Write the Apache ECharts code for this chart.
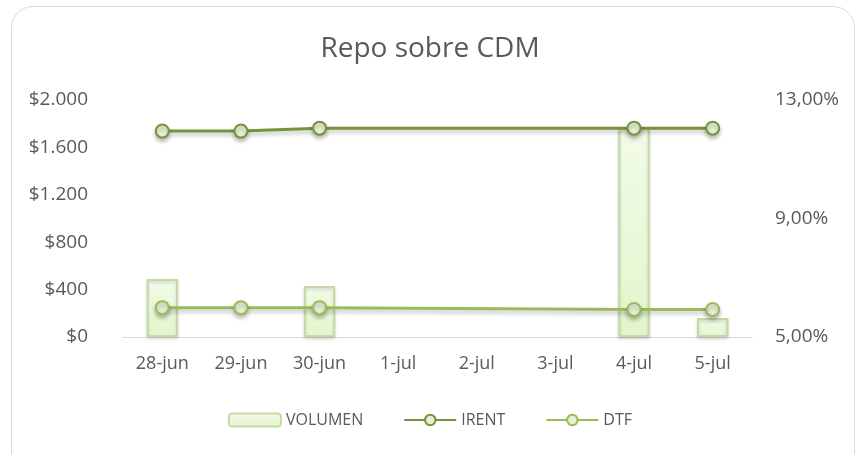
<!DOCTYPE html>
<html>
<head>
<meta charset="utf-8">
<script src="https://cdn.jsdelivr.net/npm/echarts@6/dist/echarts.min.js"></script>
<style>
    html, body { margin: 0; padding: 0; background: #fff; }
    #frame {
        position: absolute; left: 11px; top: 6px; width: 844px; height: 470px;
        border: 1.5px solid #d9d9d9; border-radius: 22px; box-sizing: border-box;
    }
    #main { position: absolute; left: 0; top: 0; width: 860px; height: 454px; }
</style>
</head>
<body>
<div id="frame"></div>
<div id="main"></div>
<script>
    var categories = ['28-jun', '29-jun', '30-jun', '1-jul', '2-jul', '3-jul', '4-jul', '5-jul'];
    var volumen = [490, null, 430, null, null, null, 1770, 160];
    var irent = [11.95, 11.95, 12.05, null, null, null, 12.05, 12.05];
    var dtf = [5.99, 5.99, 5.99, null, null, null, 5.93, 5.93];

    var textColor = '#595959';
    var fontFamily = '"Open Sans", "Noto Sans", sans-serif';

    var chart = echarts.init(document.getElementById('main'));

    function lineSeries(name, data, color) {
        return {
            name: name,
            type: 'line',
            yAxisIndex: 1,
            data: data,
            connectNulls: true,
            symbol: 'circle',
            symbolSize: 13,
            lineStyle: {
                color: color,
                width: 3,
                shadowColor: 'rgba(0,0,0,0.25)',
                shadowBlur: 4,
                shadowOffsetY: 3
            },
            itemStyle: {
                color: '#e6f0d4',
                borderColor: color,
                borderWidth: 2,
                shadowColor: 'rgba(0,0,0,0.25)',
                shadowBlur: 4,
                shadowOffsetY: 3
            },
            z: 3
        };
    }

    var option = {
        animation: false,
        textStyle: { fontFamily: fontFamily },
        title: {
            text: 'Repo sobre CDM',
            left: 'center',
            top: 30,
            textStyle: { color: textColor, fontSize: 28, fontWeight: 'normal', fontFamily: fontFamily }
        },
        legend: {
            bottom: 21,
            left: 'center',
            itemGap: 40,
            itemWidth: 52,
            itemHeight: 13,
            textStyle: { color: textColor, fontSize: 16, fontFamily: fontFamily },
            data: ['VOLUMEN', 'IRENT', 'DTF']
        },
        grid: {
            left: 123,
            right: 108,
            top: 100,
            bottom: 117,
            containLabel: false
        },
        xAxis: {
            type: 'category',
            data: categories,
            axisLine: { lineStyle: { color: '#d9d9d9', width: 1 } },
            axisTick: { show: false },
            axisLabel: { color: textColor, fontSize: 18, margin: 18, fontFamily: fontFamily }
        },
        yAxis: [{
            type: 'value',
            min: 0,
            max: 2000,
            interval: 400,
            axisLine: { show: false },
            axisTick: { show: false },
            splitLine: { show: false },
            axisLabel: {
                color: textColor, fontSize: 19, margin: 35, fontFamily: fontFamily,
                formatter: function (v) {
                    return '$' + v.toString().replace(/\B(?=(\d{3})+(?!\d))/g, '.');
                }
            }
        }, {
            type: 'value',
            min: 5,
            max: 13,
            interval: 4,
            axisLine: { show: false },
            axisTick: { show: false },
            splitLine: { show: false },
            axisLabel: {
                color: textColor, fontSize: 19, margin: 23, fontFamily: fontFamily,
                formatter: function (v) {
                    return v.toFixed(2).replace('.', ',') + '%';
                }
            }
        }],
        series: [{
            name: 'VOLUMEN',
            type: 'bar',
            data: volumen,
            barWidth: '40%',
            itemStyle: {
                color: new echarts.graphic.LinearGradient(0, 0, 0, 1, [
                    { offset: 0, color: '#f2fbe8' },
                    { offset: 1, color: '#e3f5cc' }
                ]),
                borderColor: '#c6d9a6',
                borderWidth: 2,
                shadowColor: 'rgba(0,0,0,0.15)',
                shadowBlur: 3,
                shadowOffsetY: 2
            },
            z: 2
        },
            lineSeries('IRENT', irent, '#77933c'),
            lineSeries('DTF', dtf, '#9bbb59')
        ]
    };

    chart.setOption(option);
</script>
</body>
</html>
